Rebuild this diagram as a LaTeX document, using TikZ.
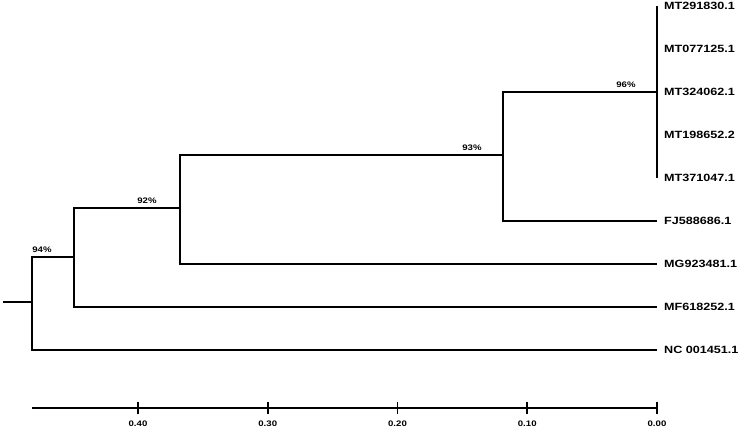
\documentclass[tikz,border=0pt]{standalone}
\usepackage{fontspec}
\newfontfamily\treefont[FakeStretch=1.2]{Liberation Sans}
\usetikzlibrary{calc}

\tikzset{
  branch/.style={line width=1.8pt},
  leaflabel/.style={anchor=west, inner sep=0pt, font=\treefont\bfseries\fontsize{10.5}{12}\selectfont},
  bootval/.style={anchor=south, inner sep=0pt, font=\treefont\bfseries\fontsize{8}{9}\selectfont},
  scaleval/.style={inner sep=0pt, font=\treefont\bfseries\fontsize{8}{9}\selectfont},
}

\begin{document}
\begin{tikzpicture}[x=1pt, y=-1pt]
    \useasboundingbox (0,0) rectangle (740,430);

    % Internal nodes
    \coordinate (stub) at (3,302);
    \coordinate (N0) at (32,302);
    \coordinate (N1) at (74,257);
    \coordinate (N2) at (180,208);
    \coordinate (N3) at (503,155);
    \coordinate (N4) at (657,92);

    % Leaves and their labels
    \foreach \lab [count=\i from 0] in {MT291830.1,MT077125.1,MT324062.1,MT198652.2,MT371047.1,FJ588686.1,MG923481.1,MF618252.1,NC 001451.1} {
        \coordinate (L\i) at (657,{6+43*\i});
        \node[leaflabel] (T\i) at ([xshift=7pt]L\i) {\lab};
    }

    % Branches
    \draw[branch] (stub) -- (N0);
    \draw[branch] (N0) |- (N1);
    \draw[branch] (N0) |- (L8);
    \draw[branch] (N1) |- (N2);
    \draw[branch] (N1) |- (L7);
    \draw[branch] (N2) |- (N3);
    \draw[branch] (N2) |- (L6);
    \draw[branch] (N3) |- (N4);
    \draw[branch] (N3) |- (L5);
    \draw[branch] (L0) -- (L4);

    % Bootstrap values
    \node[bootval] (b1) at ([xshift=-32pt,yshift=4pt]N1) {94\%};
    \node[bootval] (b2) at ([xshift=-33pt,yshift=4pt]N2) {92\%};
    \node[bootval] (b3) at ([xshift=-31pt,yshift=4pt]N3) {93\%};
    \node[bootval] (b4) at ([xshift=-31pt,yshift=4pt]N4) {96\%};

    % Distance scale
    \coordinate (A0) at (32,408);
    \coordinate (A1) at (657,408);
    \draw[branch] (A0) -- (A1);
    \foreach \v [count=\i from 0] in {0.00,0.10,0.20,0.30,0.40} {
        \coordinate (t\i) at ({657-129.75*\i},408);
        \draw[branch] ([yshift=6pt]t\i) -- ([yshift=-6pt]t\i);
        \node[scaleval] (s\i) at ([yshift=-16pt]t\i) {\v};
    }
\end{tikzpicture}
\end{document}
